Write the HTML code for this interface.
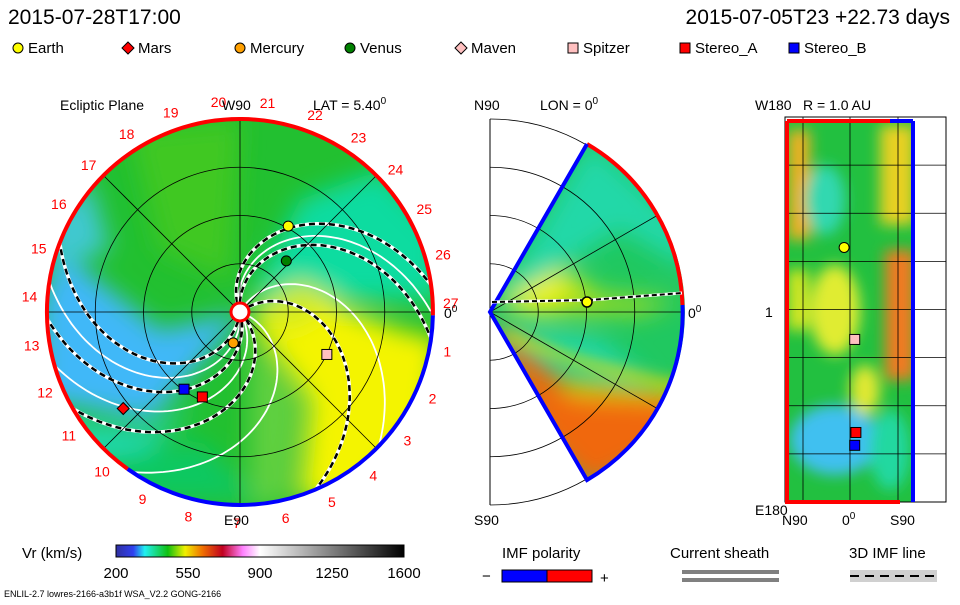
<!DOCTYPE html>
<html><head><meta charset="utf-8"><style>
body{margin:0;background:#fff;width:960px;height:600px;overflow:hidden;font-family:"Liberation Sans",sans-serif}
svg text{font-family:"Liberation Sans",sans-serif}
</style></head><body>
<svg id="s" width="960" height="600" viewBox="0 0 960 600">
<defs>
<filter id="bl" x="-50%" y="-50%" width="200%" height="200%"><feGaussianBlur stdDeviation="12"/></filter>
<filter id="bl2" x="-50%" y="-50%" width="200%" height="200%"><feGaussianBlur stdDeviation="7"/></filter>
<clipPath id="disk"><circle cx="240" cy="312" r="193"/></clipPath>
<clipPath id="wedge"><path d="M490,312 L587,144 A193,193 0 0 1 587,480 Z"/></clipPath>
<clipPath id="rect"><rect x="785" y="121" width="130" height="381"/></clipPath>
<linearGradient id="cb" x1="0" x2="1">
<stop offset="0" stop-color="#3030a0"/><stop offset="0.06" stop-color="#3040f0"/><stop offset="0.1" stop-color="#20f0f0"/><stop offset="0.18" stop-color="#10c010"/><stop offset="0.24" stop-color="#f0f000"/><stop offset="0.3" stop-color="#f07000"/><stop offset="0.37" stop-color="#c00020"/><stop offset="0.44" stop-color="#ff80ff"/><stop offset="0.5" stop-color="#ffffff"/><stop offset="1" stop-color="#000000"/>
</linearGradient>
</defs>
<text x="8" y="24" font-size="21" fill="#000">2015-07-28T17:00</text>
<text x="950" y="24" font-size="21" fill="#000" text-anchor="end">2015-07-05T23 +22.73 days</text>
<g id="legend"></g>

<!-- ecliptic disk -->
<g clip-path="url(#disk)">
<circle cx="240" cy="312" r="193" fill="#22c030"/>
<g filter="url(#bl)">
<path d="M250,300 L300,200 L380,170 L440,230 L440,300 Z" fill="#10dca0"/>
<path d="M240,312 L160,330 L60,250 L40,300 L40,400 L150,420 L230,330 Z" fill="#40b8f8"/>
<path d="M40,220 L90,180 L110,250 L50,270Z" fill="#40c8d0"/>
<path d="M40,420 L150,430 L200,400 L140,460 L60,460Z" fill="#20d8b0"/>
<path d="M250,320 L320,300 L400,330 L440,340 L430,420 L360,500 L300,500 L310,400 Z" fill="#f4f400"/>
<path d="M250,310 L300,280 L340,300 L290,330Z" fill="#d0ea20"/>
<path d="M250,330 L300,400 L290,500 L250,510 L250,400Z" fill="#60d040"/>
<path d="M130,130 L240,120 L230,280 L160,250Z" fill="#40c820"/>
<path d="M100,460 L200,440 L260,500 L150,500Z" fill="#10c860"/>
</g>
</g>
<g id="spirals" clip-path="url(#disk)"></g>
<g id="disklines"></g>
<path d="M432.9,315.4 A193,193 0 1 0 127.7,469" fill="none" stroke="#f00" stroke-width="4"/>
<path d="M127.7,469 A193,193 0 0 0 432.9,315.4" fill="none" stroke="#00f" stroke-width="4"/>
<circle cx="240" cy="312" r="9" fill="#fff" stroke="#f00" stroke-width="3"/>
<g id="hours"></g>
<text x="60" y="110" font-size="14">Ecliptic Plane</text>
<text x="222" y="110" font-size="14">W90</text>
<text x="313" y="110" font-size="14">LAT = 5.40<tspan dy="-6" font-size="10">0</tspan></text>
<text x="224" y="525" font-size="14">E90</text>
<text x="444" y="318" font-size="14">0<tspan dy="-6" font-size="10">0</tspan></text>
<g id="bodies"></g>

<!-- meridional wedge -->
<g id="wedgeframe"></g>
<g clip-path="url(#wedge)">
<rect x="480" y="130" width="220" height="360" fill="#20c860"/>
<g filter="url(#bl)">
<path d="M490,312 L590,140 L690,230 L690,270 L620,230 Z" fill="#20d8a8"/>
<path d="M500,300 L560,270 L610,300 L600,315 L520,312Z" fill="#f4f400"/>
<path d="M560,290 L680,300 L640,315 L560,312Z" fill="#a0dc20"/>
<path d="M500,325 L600,340 L650,380 L560,360Z" fill="#20d8b0"/>
<path d="M490,320 L560,380 L690,400 L690,440 L590,490 L540,440 Z" fill="#f06810"/>
<path d="M560,380 L690,390 L690,400 L570,395Z" fill="#e8d000"/>
</g>
<path d="M505,335 Q600,370 690,390" fill="none" stroke="#e0e000" stroke-width="6" filter="url(#bl2)"/>
</g>
<g id="wedgelines"></g>
<path d="M587,144 A193,193 0 0 1 682.5,305" fill="none" stroke="#f00" stroke-width="4"/>
<path d="M682.5,305 A193,193 0 0 1 587,480 L490,312 L587,144" fill="none" stroke="#00f" stroke-width="4"/>
<path d="M492,302 L590,300 L682,293" fill="none" stroke="#fff" stroke-width="3"/>
<path d="M492,302 L590,300 L682,293" fill="none" stroke="#000" stroke-width="2" stroke-dasharray="5,3"/>
<circle cx="587" cy="302" r="5" fill="#ff0" stroke="#000" stroke-width="1.5"/>
<text x="474" y="110" font-size="14">N90</text>
<text x="540" y="110" font-size="14">LON = 0<tspan dy="-6" font-size="10">0</tspan></text>
<text x="688" y="318" font-size="14">0<tspan dy="-6" font-size="10">0</tspan></text>
<text x="474" y="525" font-size="14">S90</text>

<!-- R=1AU panel -->
<g clip-path="url(#rect)">
<rect x="785" y="121" width="130" height="381" fill="#22c040"/>
<g filter="url(#bl2)">
<rect x="788" y="130" width="22" height="110" fill="#f0b020"/>
<rect x="880" y="125" width="35" height="100" fill="#e8d020"/>
<rect x="885" y="250" width="30" height="130" fill="#f07a20"/>
<rect x="788" y="270" width="20" height="60" fill="#d8e820"/>
<ellipse cx="835" cy="310" rx="25" ry="45" fill="#e0ec30"/>
<ellipse cx="835" cy="440" rx="45" ry="35" fill="#40c0f0"/>
<ellipse cx="825" cy="200" rx="20" ry="35" fill="#30d8b0"/>
<ellipse cx="865" cy="390" rx="15" ry="25" fill="#e0e830"/>
<ellipse cx="890" cy="450" rx="20" ry="40" fill="#20d8a0"/>
</g>
</g>
<rect x="785" y="117" width="161" height="385" fill="none" stroke="#000"/>
<g id="rectlines"></g>
<path d="M787,121 V502 H900 M787,121 H895" stroke="#f00" stroke-width="4" fill="none"/>
<path d="M913,121 V502 M890,121 H913" stroke="#00f" stroke-width="4" fill="none"/>
<g id="rbodies"></g>
<text x="755" y="110" font-size="14">W180</text>
<text x="803" y="110" font-size="14">R = 1.0 AU</text>
<text x="765" y="317" font-size="14">1</text>
<text x="755" y="515" font-size="14">E180</text>
<text x="782" y="525" font-size="14">N90</text>
<text x="842" y="525" font-size="14">0<tspan dy="-6" font-size="10">0</tspan></text>
<text x="890" y="525" font-size="14">S90</text>

<!-- bottom -->
<text x="22" y="558" font-size="15">Vr (km/s)</text>
<rect x="116" y="545" width="288" height="12" fill="url(#cb)" stroke="#000"/>
<g id="cbticks" font-size="15" text-anchor="middle"></g>
<text x="4" y="597" font-size="9">ENLIL-2.7 lowres-2166-a3b1f WSA_V2.2 GONG-2166</text>
<text x="502" y="558" font-size="15">IMF polarity</text>
<text x="482" y="581" font-size="15">−</text>
<rect x="502" y="570" width="45" height="12" fill="#00f" stroke="#000"/>
<rect x="547" y="570" width="45" height="12" fill="#f00" stroke="#000"/>
<text x="600" y="583" font-size="15">+</text>
<text x="670" y="558" font-size="15">Current sheath</text>
<rect x="682" y="570" width="97" height="4" fill="#808080"/><rect x="682" y="578" width="97" height="4" fill="#808080"/>
<text x="849" y="558" font-size="15">3D IMF line</text>
<rect x="850" y="570" width="87" height="12" fill="#d0d0d0"/>
<line x1="850" y1="576" x2="937" y2="576" stroke="#000" stroke-width="2" stroke-dasharray="9,6"/>
</svg>
<script>
const NS="http://www.w3.org/2000/svg";
const bodyNames=["Earth","Mars","Mercury","Venus","Maven","Spitzer","Stereo_A","Stereo_B"];
const bodyColors=["#ffff00","#ff0000","#ffa000","#008000","#ffc0c0","#ffc0c0","#ff0000","#0000ff"];
const bodyShapes=["circle","diamond","circle","circle","diamond","square","square","square"];
// ecliptic positions in AU (x right, y up)
const bodyX=[0.50,-1.21,-0.07,0.48,-1.21,0.90,-0.39,-0.58];
const bodyY=[0.89,-1.00,-0.32,0.53,-1.00,-0.44,-0.88,-0.80];
// R=1AU panel (longitude deg, latitude deg)
const rLon=[58,null,null,null,null,-28,-115,-127];
const rLat=[10,null,null,null,null,-8,-10,-8];
const hourLabels=[1,2,3,4,5,6,7,8,9,10,11,12,13,14,15,16,17,18,19,20,21,22,23,24,25,26,27];
const cbTicks=[200,550,900,1250,1600];
// spiral footpoints (deg, screen clockwise) and style (1 dashed, 0 white)
const spiralStart=[-112,-103,-96,-60,-37,20,46,60,74,85,97];
const spiralDashed=[1,0,1,0,1,0,1,0,1,0,1];
function el(t,a,p){const e=document.createElementNS(NS,t);for(const k in a)e.setAttribute(k,a[k]);p.appendChild(e);return e;}
const CX=240,CY=312,AU=96.5;
const ax=v=>CX+v*AU, ay=v=>CY-v*AU;
function marker(g,shape,x,y,c,s){let e;
 if(shape==="circle")e=el("circle",{cx:x,cy:y,r:s,fill:c,stroke:"#000"},g);
 else if(shape==="square")e=el("rect",{x:x-s,y:y-s,width:2*s,height:2*s,fill:c,stroke:"#000"},g);
 else e=el("path",{d:`M${x},${y-s-1}L${x+s+1},${y}L${x},${y+s+1}L${x-s-1},${y}Z`,fill:c,stroke:"#000"},g);
 return e;}
// legend
const lg=document.getElementById("legend");
const lx=[18,128,240,350,461,573,685,794];
bodyNames.forEach((n,i)=>{const m=marker(lg,bodyShapes[i],lx[i],48,bodyColors[i],5);


const t=el("text",{x:lx[i]+10,y:53,"font-size":15},lg);t.textContent=n;

});
// disk grid
const dl=document.getElementById("disklines");
[0.5,1,1.5].forEach(r=>el("circle",{cx:CX,cy:CY,r:r*AU,fill:"none",stroke:"#000","stroke-width":0.8},dl));
[0,45,90,135].forEach(a=>{const r=193,c=Math.cos(a*Math.PI/180),s=Math.sin(a*Math.PI/180);
el("line",{x1:CX-r*c,y1:CY-r*s,x2:CX+r*c,y2:CY+r*s,stroke:"#000","stroke-width":0.8},dl);});
// spirals
const sp=document.getElementById("spirals");
spiralStart.forEach((a0,k)=>{let d="";for(let r=0.1;r<=2.1;r+=0.03){const th=(a0+r*52)*Math.PI/180;d+=(d?"L":"M")+(CX+r*AU*Math.cos(th)).toFixed(1)+","+(CY+r*AU*Math.sin(th)).toFixed(1);}
if(spiralDashed[k]){el("path",{d,fill:"none",stroke:"#fff","stroke-width":3.5},sp);
el("path",{d,fill:"none",stroke:"#000","stroke-width":2.5,"stroke-dasharray":"6,4"},sp);}
else el("path",{d,fill:"none",stroke:"#fff","stroke-width":1.8},sp);});
// hours
const hg=document.getElementById("hours");
hourLabels.forEach(h=>{const a=(h*360/27-2.5)*Math.PI/180;const t=el("text",{x:CX+211*Math.cos(a),y:CY+211*Math.sin(a)+5,"font-size":14,fill:"#f00","text-anchor":"middle"},hg);t.textContent=h;

});
// bodies
const bg=document.getElementById("bodies");
bodyNames.forEach((n,i)=>{if(n==="Maven")return;const m=marker(bg,bodyShapes[i],ax(bodyX[i]),ay(bodyY[i]),bodyColors[i],5);

});
// wedge frame
const wf=document.getElementById("wedgeframe");
el("line",{x1:490,y1:119,x2:490,y2:505,stroke:"#000","stroke-width":1},wf);
[48.25,96.5,144.75,193].forEach(r=>el("path",{d:`M490,${312-r}A${r},${r} 0 0 1 ${490+r*0.5},${312-r*0.866}M490,${312+r}A${r},${r} 0 0 0 ${490+r*0.5},${312+r*0.866}`,fill:"none",stroke:"#000","stroke-width":0.8},wf));
const wl=document.getElementById("wedgelines");
[48.25,96.5,144.75].forEach(r=>el("path",{d:`M${490+r*0.5},${312-r*0.866}A${r},${r} 0 0 1 ${490+r*0.5},${312+r*0.866}`,fill:"none",stroke:"#000","stroke-width":0.8},wl));
[-30,0,30].forEach(a=>{const t=a*Math.PI/180;el("line",{x1:490,y1:312,x2:490+193*Math.cos(t),y2:312+193*Math.sin(t),stroke:"#000","stroke-width":0.8},wl);});
// rect grid
const rl=document.getElementById("rectlines");
for(let i=1;i<8;i++)el("line",{x1:785,x2:946,y1:117+i*385/8,y2:117+i*385/8,stroke:"#000","stroke-width":0.8},rl);
[803,850,898].forEach(x=>el("line",{x1:x,x2:x,y1:117,y2:502,stroke:"#000","stroke-width":0.8},rl));
const rb=document.getElementById("rbodies");
const lonY=v=>309.5-v*(192.5/180), latX=v=>850-v*(53/90);
bodyNames.forEach((n,i)=>{if(rLon[i]===null)return;const m=marker(rb,bodyShapes[i],latX(rLat[i]),lonY(rLon[i]),bodyColors[i],5);

});
// colorbar ticks
const cg=document.getElementById("cbticks");
cbTicks.forEach(v=>{const t=el("text",{x:116+(v-200)/1400*288,y:578},cg);t.textContent=v;

});
</script>
</body></html>
